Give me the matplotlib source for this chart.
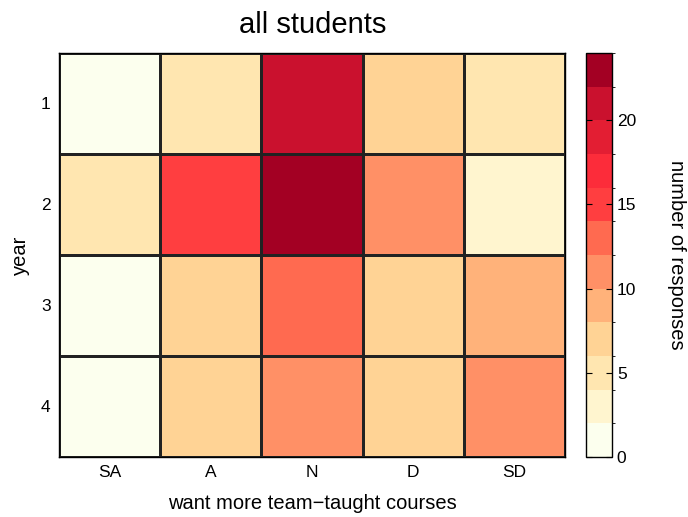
import matplotlib
matplotlib.use('Agg')
import matplotlib.pyplot as plt
from matplotlib.colors import ListedColormap, BoundaryNorm
import numpy as np

plt.rcParams['font.family'] = ['Liberation Sans', 'DejaVu Sans']

# data: number of responses per year (rows) and answer (columns)
answers = ['SA', 'A', 'N', 'D', 'SD']
years = ['1', '2', '3', '4']
year1 = [0, 5, 21, 7, 5]
year2 = [5, 15, 23, 11, 3]
year3 = [0, 7, 13, 7, 9]
year4 = [0, 7, 11, 7, 11]
levels = np.arange(0, 25, 2)
cbar_ticks = [0, 5, 10, 15, 20]

band_colors = ['#fcffee', '#fff5cf', '#ffe6b0', '#ffd395', '#ffb27a', '#ff9066',
               '#ff6a50', '#ff3e40', '#fc2c3a', '#e31e33', '#ca112e', '#a30023']
cmap = ListedColormap(band_colors)
norm = BoundaryNorm(levels, cmap.N)

counts = np.array([year1, year2, year3, year4])

fig = plt.figure(figsize=(6.88, 5.17), dpi=100)
ax = fig.add_axes([0.0858, 0.1161, 0.7355, 0.7814])
cax = fig.add_axes([0.8517, 0.1161, 0.0378, 0.7814])

mesh = ax.pcolormesh(np.arange(len(answers) + 1), np.arange(len(years) + 1), counts,
                     cmap=cmap, norm=norm, edgecolors='#222222', linewidth=0.8)
ax.set_xlim(0, len(answers))
ax.set_ylim(len(years), 0)
ax.set_xticks(np.arange(len(answers)) + 0.5)
ax.set_xticklabels(answers)
ax.set_yticks(np.arange(len(years)) + 0.5)
ax.set_yticklabels(years)
ax.tick_params(length=0, labelsize=12.5, pad=6)
for s in ax.spines.values():
    s.set_linewidth(1.0)

ax.set_xlabel('want more team\u2212taught courses', fontsize=14.5, labelpad=10)
ax.set_ylabel('year', fontsize=14.5, labelpad=8)
fig.text(0.455, 0.952, 'all students', ha='center', va='center', fontsize=21)

cb = fig.colorbar(mesh, cax=cax, ticks=cbar_ticks)
cb.outline.set_linewidth(1.0)
cax.tick_params(direction='in', length=4, labelsize=12.5, left=True, right=True, width=0.8)
cb.set_label('number of responses', rotation=270, fontsize=14.5, labelpad=36)

fig.savefig('out.png', dpi=100)
